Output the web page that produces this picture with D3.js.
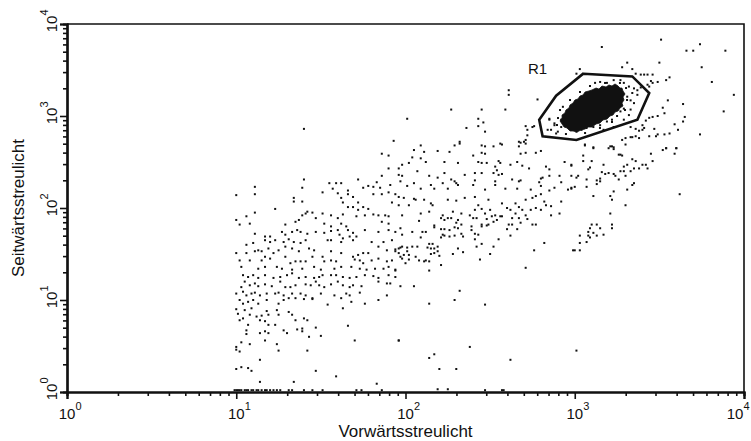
<!DOCTYPE html>
<html><head><meta charset="utf-8">
<script src="https://cdn.jsdelivr.net/npm/d3@7"></script>
<style>body{margin:0;background:#fff}svg text{font-family:"Liberation Sans",Arial,Helvetica,sans-serif;fill:#111}</style>
</head><body><svg id="chart" width="751" height="441"></svg>
<script>
// ---- axis definitions ----
const decades = [0, 1, 2, 3, 4];            // tick exponents (10^n)
const tickBase = "10";
const xTitle = "Vorwärtsstreulicht";
const yTitle = "Seitwärtsstreulicht";
const gateLabel = "R1";

// ---- events, stored as log10(intensity) pairs [FSC, SSC] ----
const gateR1 = [[3.05,3.46],[3.34,3.43],[3.44,3.25],[3.37,2.96],[3.01,2.74],[2.81,2.78],[2.79,2.96],[2.89,3.22]];
const coreOutline = [[3.102,3.283],[3.126,3.304],[3.143,3.293],[3.161,3.326],[3.185,3.315],[3.202,3.337],[3.220,3.326],[3.238,3.348],[3.256,3.326],[3.267,3.304],[3.279,3.304],[3.285,3.272],[3.297,3.239],[3.285,3.207],[3.291,3.174],[3.279,3.141],[3.285,3.109],[3.267,3.087],[3.256,3.054],[3.238,3.043],[3.226,3.011],[3.208,3.000],[3.191,2.967],[3.167,2.957],[3.149,2.924],[3.126,2.913],[3.102,2.880],[3.078,2.880],[3.061,2.859],[3.037,2.848],[3.013,2.826],[2.990,2.837],[2.972,2.837],[2.954,2.870],[2.937,2.880],[2.925,2.913],[2.913,2.946],[2.925,2.978],[2.925,3.011],[2.942,3.033],[2.948,3.065],[2.966,3.087],[2.972,3.120],[2.990,3.141],[3.001,3.174],[3.019,3.185],[3.031,3.217],[3.049,3.228],[3.061,3.261],[3.084,3.272]];
const coreFringe = [[2.913,3.065],[2.901,2.978],[2.895,2.902],[2.948,2.804],[3.061,2.815],[3.149,2.870],[3.220,2.935],[3.297,3.065],[3.309,3.174],[3.303,3.304],[3.267,3.359],[3.179,3.359],[3.090,3.326],[3.031,3.261],[2.972,3.174]];
const gateEvents = [[3.12,3.36],[3.15,3.37],[3.19,3.36],[3.23,3.39],[3.27,3.39],[3.29,3.36],[3.32,3.32],[3.35,3.30],[3.37,3.28],[3.39,3.31],[3.34,3.25],[3.37,3.23],[3.31,3.21],[3.33,3.17],[3.35,3.14],[3.29,3.08],[3.27,3.05],[3.25,3.00],[3.22,2.96],[3.19,2.94],[3.15,2.90],[3.11,2.88],[3.07,2.87],[3.04,2.85],[3.01,2.88],[3.33,3.07],[3.32,3.01],[3.29,2.96],[3.23,2.88],[3.17,2.85],[2.99,2.96],[3.09,2.92],[2.85,2.96],[2.88,2.90],[2.84,2.85],[2.90,2.83],[2.95,3.01],[2.93,3.10],[3.01,2.83],[2.85,2.97],[2.88,2.92],[2.92,2.88],[2.89,2.81],[2.86,2.85],[2.92,2.96]];
const scatterLowFsc = [[1.90,2.43],[1.86,2.35],[1.96,2.36],[1.40,2.31],[1.55,2.27],[1.59,2.27],[1.62,2.27],[1.72,2.31],[1.83,2.28],[1.91,2.25],[1.11,2.23],[1.39,2.22],[1.57,2.21],[1.75,2.22],[1.78,2.24],[1.81,2.23],[1.85,2.22],[1.60,2.16],[1.66,2.19],[1.66,2.15],[1.51,2.17],[1.81,2.15],[1.86,2.15],[1.90,2.17],[1.94,2.15],[1.00,2.14],[1.11,2.15],[1.34,2.11],[1.34,2.07],[1.39,2.07],[1.62,2.11],[1.63,2.06],[1.69,2.12],[1.72,2.06],[1.75,2.01],[1.69,2.01],[1.66,2.01],[1.92,2.06],[1.23,1.99],[1.11,1.95],[1.42,1.96],[1.41,1.94],[1.39,1.92],[1.45,1.95],[1.51,1.94],[1.56,1.92],[1.60,1.89],[1.63,1.93],[1.72,1.98],[1.78,1.99],[1.81,1.93],[1.84,1.92],[1.88,1.92],[1.90,1.91],[1.98,1.92],[1.06,1.91],[1.00,1.87],[1.08,1.83],[1.02,1.82],[1.29,1.82],[1.35,1.85],[1.37,1.87],[1.47,1.89],[1.52,1.83],[1.56,1.80],[1.62,1.83],[1.65,1.80],[1.66,1.76],[1.71,1.91],[1.76,1.92],[1.86,1.85],[1.90,1.83],[1.11,1.72],[1.17,1.69],[1.20,1.69],[1.27,1.74],[1.29,1.71],[1.33,1.74],[1.36,1.76],[1.38,1.74],[1.42,1.72],[1.47,1.74],[1.52,1.73],[1.56,1.75],[1.60,1.76],[1.61,1.71],[1.63,1.67],[1.69,1.73],[1.71,1.69],[1.76,1.76],[1.84,1.74],[1.90,1.76],[1.94,1.74],[1.06,1.60],[1.10,1.62],[1.17,1.65],[1.20,1.63],[1.23,1.65],[1.28,1.63],[1.31,1.66],[1.34,1.63],[1.38,1.62],[1.41,1.65],[1.43,1.56],[1.46,1.54],[1.54,1.65],[1.56,1.65],[1.62,1.63],[1.67,1.69],[1.69,1.65],[1.80,1.63],[1.84,1.58],[1.87,1.63],[1.92,1.65],[1.00,1.51],[1.06,1.51],[1.11,1.53],[1.13,1.54],[1.15,1.53],[1.19,1.56],[1.22,1.51],[1.25,1.54],[1.29,1.58],[1.33,1.56],[1.37,1.53],[1.45,1.47],[1.51,1.47],[1.56,1.53],[1.62,1.51],[1.69,1.47],[1.72,1.49],[1.75,1.51],[1.78,1.51],[1.89,1.54],[1.94,1.53],[1.96,1.56],[1.02,1.43],[1.08,1.43],[1.15,1.43],[1.17,1.47],[1.20,1.45],[1.29,1.47],[1.32,1.40],[1.35,1.42],[1.38,1.42],[1.41,1.42],[1.52,1.42],[1.56,1.43],[1.59,1.42],[1.70,1.44],[1.73,1.43],[1.75,1.40],[1.80,1.43],[1.84,1.45],[1.89,1.42],[1.92,1.43],[1.03,1.36],[1.13,1.34],[1.17,1.36],[1.24,1.36],[1.27,1.34],[1.33,1.33],[1.39,1.34],[1.46,1.36],[1.50,1.33],[1.58,1.34],[1.62,1.36],[1.68,1.36],[1.73,1.34],[1.77,1.33],[1.82,1.34],[1.87,1.34],[1.90,1.36],[1.94,1.33],[1.04,1.27],[1.07,1.25],[1.10,1.27],[1.13,1.24],[1.17,1.27],[1.22,1.24],[1.26,1.25],[1.30,1.27],[1.33,1.29],[1.37,1.24],[1.41,1.25],[1.46,1.24],[1.49,1.25],[1.51,1.27],[1.56,1.27],[1.59,1.27],[1.63,1.25],[1.67,1.24],[1.71,1.25],[1.76,1.27],[1.81,1.26],[1.84,1.24],[1.90,1.27],[1.94,1.25],[1.40,2.86],[1.93,2.73],[1.86,2.59],[1.90,2.57]];
const scatterDebris = [[1.03,1.14],[1.05,1.20],[1.08,1.16],[1.11,1.18],[1.13,1.15],[1.17,1.17],[1.21,1.15],[1.26,1.20],[1.29,1.14],[1.32,1.14],[1.35,1.16],[1.41,1.17],[1.44,1.16],[1.47,1.20],[1.49,1.16],[1.52,1.14],[1.56,1.17],[1.60,1.20],[1.63,1.16],[1.67,1.14],[1.69,1.16],[1.74,1.15],[1.84,1.20],[1.89,1.18],[1.91,1.18],[1.00,1.07],[1.04,1.09],[1.06,1.05],[1.09,1.07],[1.11,1.08],[1.14,1.05],[1.18,1.07],[1.23,1.07],[1.25,1.08],[1.28,1.05],[1.33,1.07],[1.38,1.07],[1.41,1.05],[1.45,1.02],[1.50,1.07],[1.58,1.05],[1.62,1.02],[1.65,1.07],[1.67,1.05],[1.73,1.08],[1.89,1.05],[1.02,1.00],[1.04,0.96],[1.07,0.98],[1.10,1.00],[1.13,0.96],[1.18,1.00],[1.25,0.96],[1.28,1.00],[1.31,1.02],[1.35,1.02],[1.40,1.01],[1.45,1.01],[1.54,0.95],[1.63,0.91],[1.68,0.98],[1.76,0.96],[1.84,1.00],[1.00,0.90],[1.01,0.85],[1.05,0.89],[1.08,0.84],[1.09,0.91],[1.12,0.82],[1.15,0.83],[1.18,0.88],[1.19,0.84],[1.24,0.89],[1.25,0.84],[1.31,0.87],[1.33,0.84],[1.35,0.78],[1.40,0.80],[1.42,0.78],[1.02,0.78],[1.04,0.80],[1.07,0.73],[1.14,0.78],[1.17,0.77],[1.19,0.73],[1.23,0.73],[1.06,0.67],[1.06,0.63],[1.14,0.64],[1.17,0.66],[1.19,0.64],[1.28,0.67],[1.30,0.64],[1.36,0.68],[1.39,0.69],[1.39,0.66],[1.47,0.70],[1.50,0.61],[1.43,0.60],[1.66,0.72],[1.17,0.56],[1.03,0.54],[1.08,0.52],[1.00,0.49],[1.00,0.46],[1.02,0.44],[1.24,0.52],[1.25,0.45],[1.42,0.45],[1.70,0.56],[1.96,0.56],[1.14,0.35],[1.00,0.25],[1.03,0.27],[1.07,0.26],[1.09,0.23],[1.47,0.23],[1.59,0.17],[1.14,0.11],[1.34,0.11],[1.83,0.09]];
const scatterMid = [[2.01,2.97],[2.27,3.07],[2.45,3.07],[2.59,3.07],[2.43,2.97],[2.46,2.93],[2.36,2.87],[2.43,2.89],[2.47,2.83],[2.71,2.89],[2.76,2.89],[2.72,2.85],[2.72,2.79],[2.67,2.72],[2.70,2.72],[2.71,2.70],[2.67,2.67],[2.32,2.72],[2.32,2.70],[2.29,2.68],[2.09,2.68],[2.05,2.63],[2.11,2.61],[2.19,2.62],[2.26,2.61],[2.45,2.68],[2.47,2.67],[2.52,2.67],[2.56,2.70],[2.57,2.69],[2.45,2.60],[2.47,2.59],[2.40,2.57],[2.80,2.62],[2.77,2.60],[2.71,2.60],[2.68,2.59],[2.04,2.55],[2.09,2.54],[2.12,2.50],[2.02,2.49],[1.98,2.47],[1.96,2.43],[2.23,2.50],[2.31,2.49],[2.43,2.50],[2.45,2.49],[2.48,2.49],[2.53,2.45],[2.55,2.51],[2.56,2.49],[2.54,2.41],[2.62,2.47],[2.66,2.50],[2.69,2.46],[2.73,2.43],[2.83,2.45],[2.85,2.42],[2.94,2.50],[2.98,2.46],[2.07,2.40],[2.14,2.35],[2.19,2.33],[2.23,2.38],[2.27,2.31],[2.35,2.36],[2.41,2.38],[2.41,2.30],[2.45,2.38],[2.52,2.38],[2.53,2.29],[2.55,2.36],[2.57,2.37],[2.63,2.31],[2.67,2.29],[2.68,2.30],[2.80,2.32],[2.81,2.33],[2.79,2.28],[2.85,2.35],[2.91,2.35],[2.92,2.28],[2.98,2.35],[1.98,2.35],[1.97,2.29],[2.01,2.24],[2.05,2.27],[2.09,2.21],[2.15,2.25],[2.17,2.21],[2.22,2.27],[2.25,2.21],[2.29,2.29],[2.30,2.27],[2.31,2.25],[2.40,2.25],[2.47,2.20],[2.53,2.25],[2.59,2.21],[2.66,2.21],[2.74,2.20],[2.80,2.24],[2.85,2.19],[2.88,2.22],[2.96,2.20],[2.98,2.21],[1.96,2.12],[1.99,2.11],[2.05,2.10],[2.06,2.09],[2.11,2.09],[2.15,2.05],[2.16,2.03],[2.25,2.09],[2.30,2.08],[2.35,2.11],[2.41,2.12],[2.49,2.09],[2.57,2.05],[2.65,2.05],[2.71,2.09],[2.75,2.11],[2.77,2.13],[2.80,2.15],[2.82,2.07],[2.86,2.02],[2.92,2.07],[1.96,2.03],[2.02,2.03],[2.09,1.94],[2.14,1.96],[2.22,1.92],[2.25,1.89],[2.28,1.96],[2.33,1.94],[2.38,1.92],[2.41,1.98],[2.43,2.03],[2.45,1.99],[2.47,1.94],[2.50,1.98],[2.53,1.92],[2.57,1.91],[2.60,2.00],[2.62,1.98],[2.65,1.94],[2.67,2.01],[2.69,1.98],[2.71,1.92],[2.74,1.98],[2.77,2.00],[2.80,1.98],[2.83,2.03],[2.86,1.92],[2.91,1.94],[2.61,3.28],[2.78,3.18],[2.61,3.23],[2.71,2.74],[2.68,2.71],[2.75,2.88]];
const scatterMidLow = [[2.08,1.86],[2.21,1.89],[2.23,1.87],[2.27,1.89],[2.31,1.87],[2.30,1.84],[2.40,1.89],[2.42,1.89],[2.48,1.88],[2.51,1.91],[2.54,1.87],[2.56,1.91],[2.63,1.89],[2.67,1.89],[2.72,1.88],[1.97,1.78],[1.98,1.71],[2.04,1.74],[2.10,1.74],[2.12,1.74],[2.09,1.68],[2.17,1.81],[2.17,1.79],[2.21,1.77],[2.23,1.77],[2.26,1.76],[2.29,1.79],[2.31,1.78],[2.33,1.82],[2.33,1.72],[2.34,1.69],[2.29,1.70],[2.26,1.69],[2.23,1.70],[2.21,1.68],[2.22,1.71],[2.39,1.80],[2.39,1.76],[2.41,1.72],[2.43,1.71],[2.41,1.66],[2.45,1.80],[2.45,1.82],[2.48,1.81],[2.49,1.82],[2.52,1.85],[2.61,1.82],[2.63,1.82],[2.60,1.77],[2.66,1.77],[2.68,1.84],[2.75,1.82],[2.77,1.82],[1.94,1.55],[1.97,1.57],[1.98,1.58],[2.01,1.57],[2.01,1.53],[2.04,1.58],[2.07,1.58],[2.13,1.57],[2.16,1.61],[2.14,1.61],[2.15,1.56],[2.17,1.56],[2.19,1.58],[2.19,1.53],[2.17,1.51],[2.15,1.50],[2.20,1.48],[2.28,1.50],[2.31,1.56],[2.34,1.52],[2.42,1.58],[2.45,1.61],[2.52,1.58],[2.55,1.66],[2.62,1.70],[2.76,1.54],[2.82,1.62],[3.00,1.54],[1.96,1.51],[1.97,1.47],[1.99,1.49],[2.02,1.49],[1.98,1.45],[2.00,1.40],[2.02,1.44],[2.06,1.47],[2.08,1.43],[2.11,1.42],[2.14,1.42],[2.12,1.43],[2.21,1.38],[2.44,1.44],[2.50,1.50],[1.94,1.32],[2.14,1.32],[2.71,1.35],[1.97,1.15],[2.05,1.15],[2.32,1.10],[2.14,0.96],[2.29,1.00],[2.47,0.95],[1.96,0.56],[2.38,0.49],[2.17,0.41],[2.14,0.37],[2.20,0.25],[2.30,0.25],[2.62,0.35],[3.01,0.45]];
const scatterHigh = [[3.16,3.75],[3.51,3.83],[3.74,3.78],[3.66,3.71],[3.70,3.71],[3.89,3.71],[3.31,3.58],[3.28,3.53],[3.50,3.58],[3.75,3.53],[3.81,3.37],[3.94,3.23],[3.88,3.05],[3.34,3.51],[3.36,3.46],[3.39,3.45],[3.41,3.45],[3.43,3.45],[3.46,3.45],[3.45,3.38],[3.49,3.37],[3.46,3.36],[3.43,3.34],[3.44,3.32],[3.54,3.39],[3.56,3.42],[3.55,3.17],[3.52,3.09],[3.53,3.03],[3.64,3.13],[3.65,2.99],[3.64,2.94],[3.59,2.91],[3.61,2.85],[3.56,2.81],[3.53,2.80],[3.49,2.80],[3.47,2.86],[3.48,2.78],[3.44,2.78],[3.41,2.87],[3.40,2.85],[3.38,2.84],[3.36,2.86],[3.33,2.88],[3.33,2.77],[3.34,2.77],[3.36,2.78],[3.38,2.76],[3.30,2.76],[3.28,2.74],[3.49,3.00],[3.46,2.99],[3.44,2.98],[3.42,2.95],[3.40,2.90],[3.74,2.80],[3.21,2.67],[3.23,2.66],[3.11,2.66],[3.06,2.69],[3.01,3.46],[3.03,3.51],[3.54,2.65],[3.60,2.65],[3.30,2.69]];
const scatterHighLow = [[3.06,2.68],[3.11,2.65],[3.20,2.65],[3.22,2.67],[3.23,2.64],[3.27,2.58],[3.28,2.57],[3.26,2.58],[3.45,2.59],[3.52,2.63],[3.54,2.65],[3.60,2.65],[3.59,2.59],[2.98,2.47],[3.05,2.57],[3.05,2.51],[3.10,2.51],[3.09,2.44],[3.08,2.42],[3.17,2.47],[3.34,2.53],[3.36,2.51],[3.31,2.47],[3.29,2.45],[3.35,2.43],[3.38,2.43],[3.40,2.47],[3.42,2.47],[3.43,2.43],[3.46,2.51],[3.01,2.33],[3.02,2.35],[3.07,2.31],[3.13,2.30],[3.15,2.29],[3.15,2.32],[3.16,2.39],[3.18,2.37],[3.20,2.38],[3.23,2.37],[3.24,2.35],[3.27,2.40],[3.29,2.40],[3.26,2.31],[3.30,2.35],[3.33,2.40],[2.98,2.22],[3.00,2.23],[3.07,2.23],[3.13,2.26],[3.35,2.27],[3.34,2.25],[3.31,2.20],[3.23,2.18],[3.21,2.13],[3.22,2.09],[3.11,2.13],[3.30,2.03],[3.62,2.15],[3.21,1.94],[3.10,1.82],[3.13,1.82],[3.22,1.82],[3.22,1.78],[3.15,1.78],[3.09,1.78],[3.08,1.74],[3.11,1.73],[3.13,1.70],[3.17,1.71],[3.08,1.70],[3.09,1.68],[3.03,1.70],[3.07,1.63],[3.03,1.62],[2.99,1.54],[3.03,1.54]];
const axisEvents = [[0.99,0.02],[1.00,0.02],[1.01,0.02],[1.02,0.02],[1.03,0.02],[1.05,0.02],[1.06,0.02],[1.07,0.02],[1.09,0.02],[1.10,0.02],[1.12,0.02],[1.13,0.02],[1.15,0.02],[1.17,0.02],[1.18,0.02],[1.20,0.02],[1.22,0.02],[1.24,0.02],[1.26,0.02],[1.31,0.02],[1.33,0.02],[1.40,0.02],[1.45,0.02],[1.51,0.02],[1.71,0.02],[1.74,0.02],[1.86,0.02],[2.19,0.03],[2.25,0.03],[2.47,0.02],[2.57,0.02],[2.58,0.02]];

// ---- drawing ----
const svg = d3.select("#chart");
const plot = {left: 67, right: 744, top: 24, bottom: 392};
const x = d3.scaleLog().domain([1, 1e4]).range([plot.left, plot.right]);
const y = d3.scaleLog().domain([1, 1e4]).range([plot.bottom, plot.top]);
const toVal = d => [Math.pow(10, d[0]), Math.pow(10, d[1])];

const majorTicks = decades.map(n => Math.pow(10, n));
const minorTicks = [];
decades.slice(0, -1).forEach(n => { for (let k = 2; k <= 9; k++) minorTicks.push(k * Math.pow(10, n)); });

// frame (top/right)
svg.append("path")
  .attr("d", `M${plot.left},${plot.top}H${plot.right}V${plot.bottom}`)
  .attr("fill", "none").attr("stroke", "#111").attr("stroke-width", 1.6);

// X axis
const gx = svg.append("g").attr("transform", `translate(0,${plot.bottom})`);
gx.append("g").call(d3.axisBottom(x).tickValues(minorTicks).tickSize(4).tickFormat(""));
gx.append("g").call(d3.axisBottom(x).tickValues(majorTicks).tickSize(7).tickFormat(""));
gx.selectAll(".domain").attr("stroke-width", 2.2).attr("stroke", "#111");
gx.selectAll(".tick line").attr("stroke-width", 1.6).attr("stroke", "#111");

// Y axis
const gy = svg.append("g").attr("transform", `translate(${plot.left},0)`);
gy.append("g").call(d3.axisLeft(y).tickValues(minorTicks).tickSize(4).tickFormat(""));
gy.append("g").call(d3.axisLeft(y).tickValues(majorTicks).tickSize(7).tickFormat(""));
gy.selectAll(".domain").attr("stroke-width", 2.2).attr("stroke", "#111");
gy.selectAll(".tick line").attr("stroke-width", 1.6).attr("stroke", "#111");

// tick labels 10^n (the last x label is nudged left to stay inside the page)
decades.forEach((n, i) => {
  const tx = x(Math.pow(10, n)) - (i === decades.length - 1 ? 9 : 0);
  svg.append("text").attr("x", tx).attr("y", 419).attr("text-anchor", "middle")
    .attr("font-size", 15).text(tickBase);
  svg.append("text").attr("x", tx + 8.5).attr("y", 410).attr("text-anchor", "start")
    .attr("font-size", 11).text(String(n));
  const ty = y(Math.pow(10, n));
  const g = svg.append("g").attr("transform", `translate(57,${ty}) rotate(-90)`);
  g.append("text").attr("x", 0).attr("y", 0).attr("text-anchor", "middle")
    .attr("font-size", 15).text(tickBase);
  g.append("text").attr("x", 8.5).attr("y", -9).attr("text-anchor", "start")
    .attr("font-size", 11).text(String(n));
});

// axis titles
svg.append("text").attr("x", (plot.left + plot.right) / 2).attr("y", 437)
  .attr("text-anchor", "middle").attr("font-size", 17).text(xTitle);
svg.append("text").attr("transform", `translate(24,${(plot.top + plot.bottom) / 2}) rotate(-90)`)
  .attr("text-anchor", "middle").attr("font-size", 17).text(yTitle);

// events
const allEvents = [].concat(scatterLowFsc, scatterDebris, scatterMid, scatterMidLow,
  scatterHigh, scatterHighLow, gateEvents, coreFringe, axisEvents);
svg.append("g").selectAll("rect").data(allEvents).join("rect")
  .attr("x", d => x(toVal(d)[0]) - 1).attr("y", d => y(toVal(d)[1]) - 1)
  .attr("width", 2).attr("height", 2).attr("fill", "#111");

// dense core of the population
const line = d3.line().x(d => x(toVal(d)[0])).y(d => y(toVal(d)[1])).curve(d3.curveLinearClosed);
svg.append("path").attr("d", line(coreOutline)).attr("fill", "#111").attr("stroke", "#111").attr("stroke-width", 0.8);

// gate R1
svg.append("path").attr("d", line(gateR1)).attr("fill", "none").attr("stroke", "#111")
  .attr("stroke-width", 2.6).attr("stroke-linejoin", "miter");
svg.append("text").attr("x", x(Math.pow(10, 2.78))).attr("y", 74).attr("text-anchor", "middle")
  .attr("font-size", 15).text(gateLabel);
</script></body></html>
